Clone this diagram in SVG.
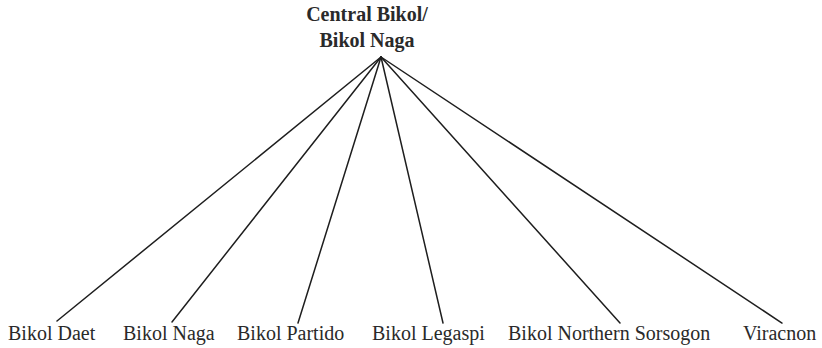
<svg xmlns="http://www.w3.org/2000/svg" width="822" height="348" viewBox="0 0 822 348">
<style>
text{font-family:'Liberation Serif',serif;font-size:20px;fill:#2a2a2a}
.b{font-weight:bold;text-anchor:middle}
.c line{stroke:#1e1e1e;stroke-width:1.5;stroke-linecap:round}
</style>
<rect width="822" height="348" fill="#fff"/>
<g id="root"><text class="b" x="367" y="21">Central Bikol/</text><text class="b" x="367" y="47">Bikol Naga</text></g>
<g class="c" id="connectors">
<line x1="381" y1="57" x2="57" y2="321"/>
<line x1="381" y1="57" x2="172" y2="322"/>
<line x1="381" y1="57" x2="298" y2="323"/>
<line x1="381" y1="57" x2="443" y2="323"/>
<line x1="381" y1="57" x2="620" y2="323"/>
<line x1="381" y1="57" x2="782" y2="323"/>
</g>
<g id="n1"><text x="8" y="340">Bikol Daet</text></g>
<g id="n2"><text x="123" y="340">Bikol Naga</text></g>
<g id="n3"><text x="237" y="340">Bikol Partido</text></g>
<g id="n4"><text x="372" y="340">Bikol Legaspi</text></g>
<g id="n5"><text x="508" y="340">Bikol Northern Sorsogon</text></g>
<g id="n6"><text x="743" y="340">Viracnon</text></g>
</svg>
